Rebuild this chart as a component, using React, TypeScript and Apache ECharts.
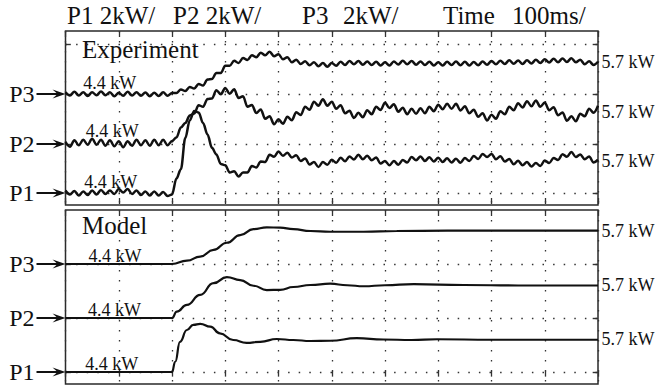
import { useEffect, useRef } from "react";
import * as echarts from "echarts";

// ---------- data (kW) ----------
const SAMPLE_MS = 25 / 3; // sampling step of the measured traces (ms)
const TIME_MAX = 1000;
const TIME_DIV = 100;
const REF_KW = 4.4;
const FINAL_KW = 5.7;
const DIV_KW = 2;

const channels = ["P3", "P2", "P1"];

const expP3 = [
  4.47, 4.34, 4.49, 4.34, 4.47, 4.32, 4.47, 4.35, 4.5, 4.35,
  4.47, 4.31, 4.45, 4.33, 4.49, 4.34, 4.47, 4.33, 4.46, 4.31,
  4.45, 4.32, 4.47, 4.33, 4.44, 4.44, 4.58, 4.52, 4.68, 4.62,
  4.8, 4.74, 4.98, 5.0, 5.24, 5.24, 5.53, 5.53, 5.73, 5.64,
  5.84, 5.76, 5.95, 5.87, 6.05, 5.95, 6.09, 5.91, 5.99, 5.79,
  5.87, 5.67, 5.77, 5.6, 5.71, 5.55, 5.67, 5.51, 5.64, 5.49,
  5.64, 5.53, 5.69, 5.56, 5.72, 5.59, 5.72, 5.57, 5.7, 5.56,
  5.69, 5.54, 5.67, 5.54, 5.7, 5.58, 5.73, 5.59, 5.72, 5.57,
  5.7, 5.56, 5.69, 5.54, 5.67, 5.54, 5.69, 5.56, 5.7, 5.55,
  5.69, 5.54, 5.68, 5.55, 5.7, 5.57, 5.72, 5.59, 5.73, 5.6,
  5.75, 5.61, 5.74, 5.6, 5.75, 5.62, 5.77, 5.64, 5.79, 5.66,
  5.81, 5.67, 5.82, 5.68, 5.83, 5.67, 5.77, 5.59, 5.71, 5.56,
  5.69,
];

const expP2 = [
  4.49, 4.29, 4.55, 4.35, 4.57, 4.37, 4.61, 4.37, 4.57, 4.33,
  4.55, 4.31, 4.51, 4.27, 4.51, 4.33, 4.57, 4.35, 4.55, 4.33,
  4.57, 4.35, 4.57, 4.35, 4.52, 4.66, 5.06, 5.24, 5.54, 5.62,
  5.95, 5.89, 6.2, 6.22, 6.55, 6.39, 6.64, 6.41, 6.59, 6.24,
  6.31, 5.89, 5.96, 5.64, 5.78, 5.41, 5.51, 5.19, 5.39, 5.21,
  5.49, 5.35, 5.67, 5.56, 5.89, 5.77, 6.09, 5.93, 6.19, 5.93,
  6.09, 5.81, 5.95, 5.63, 5.73, 5.44, 5.65, 5.47, 5.75, 5.59,
  5.89, 5.76, 6.05, 5.84, 5.99, 5.69, 5.85, 5.59, 5.81, 5.61,
  5.83, 5.63, 5.89, 5.71, 5.97, 5.79, 6.01, 5.81, 6.01, 5.74,
  5.91, 5.63, 5.77, 5.49, 5.63, 5.34, 5.57, 5.41, 5.71, 5.59,
  5.89, 5.75, 6.03, 5.86, 6.11, 5.91, 6.14, 5.89, 6.06, 5.75,
  5.87, 5.55, 5.66, 5.33, 5.51, 5.31, 5.61, 5.51, 5.81, 5.65,
  5.93,
];

const expP1 = [
  4.5, 4.34, 4.48, 4.3, 4.46, 4.32, 4.5, 4.34, 4.52, 4.36,
  4.5, 4.36, 4.56, 4.42, 4.56, 4.36, 4.5, 4.32, 4.46, 4.3,
  4.46, 4.3, 4.44, 4.28, 4.34, 4.98, 5.35, 6.6, 7.3, 7.68,
  7.62, 7.2, 6.74, 6.21, 5.94, 5.56, 5.51, 5.22, 5.27, 5.06,
  5.22, 5.22, 5.48, 5.42, 5.66, 5.64, 5.93, 5.85, 6.06, 5.89,
  6.01, 5.82, 5.91, 5.68, 5.78, 5.54, 5.64, 5.44, 5.64, 5.53,
  5.73, 5.61, 5.81, 5.67, 5.86, 5.74, 5.93, 5.75, 5.89, 5.71,
  5.82, 5.58, 5.68, 5.51, 5.68, 5.53, 5.72, 5.62, 5.84, 5.71,
  5.86, 5.68, 5.83, 5.66, 5.81, 5.64, 5.79, 5.62, 5.77, 5.61,
  5.8, 5.68, 5.88, 5.76, 5.96, 5.84, 5.96, 5.75, 5.87, 5.66,
  5.76, 5.55, 5.69, 5.51, 5.64, 5.46, 5.6, 5.48, 5.7, 5.6,
  5.8, 5.72, 5.95, 5.85, 6.04, 5.84, 5.94, 5.75, 5.86, 5.62,
  5.73,
];

const modelP3T = [0, 200, 228, 253, 278, 303, 328, 353, 378, 403, 428, 460, 497, 560, 622, 717, 850, 1000];
const modelP3 = [4.4, 4.4, 4.53, 4.69, 4.95, 5.23, 5.53, 5.76, 5.83, 5.82, 5.76, 5.69, 5.66, 5.66, 5.69, 5.7, 5.7, 5.7];

const modelP2T = [0, 200, 209, 228, 253, 278, 303, 328, 353, 378, 403, 428, 460, 497, 529, 560, 600, 654, 748, 850, 1000];
const modelP2 = [4.4, 4.4, 4.65, 4.91, 5.3, 5.76, 6.0, 5.88, 5.66, 5.49, 5.5, 5.61, 5.69, 5.74, 5.68, 5.64, 5.68, 5.72, 5.69, 5.67, 5.67];

const modelP1T = [0, 200, 206, 215, 228, 240, 253, 272, 290, 315, 340, 366, 397, 428, 460, 497, 547, 597, 650, 698, 800, 1000];
const modelP1 = [4.4, 4.4, 4.8, 5.58, 6.04, 6.24, 6.28, 6.17, 5.91, 5.65, 5.54, 5.58, 5.69, 5.65, 5.61, 5.62, 5.72, 5.67, 5.65, 5.68, 5.66, 5.66];

const headerTexts = ["P1 2kW/", "P2 2kW/", "P3", "2kW/", "Time", "100ms/"];
const panelTitles = ["Experiment", "Model"];

// ---------- layout ----------
const FONT = "Liberation Serif";
const INK = "#111";
const GRID_LEFT = 65.5;
const GRID_W = 532.5;
const GRID_H = 174;
const EDGE_TICK_MS = 10;
const panels = [
  { top: 31, pxPerKw: 25, bases: [94, 144, 193], refLabelT: [83, 88, 85], refDist: [1.2, 3.6, 1.8], width: 2.5, smooth: 0.35 },
  { top: 210, pxPerKw: 25.6, bases: [264, 318, 372], refLabelT: [93, 92, 87], refDist: [-1.5, -1.5, -1.8], width: 2.2, smooth: 0.5 },
];
const headerX = [67, 173, 302, 343, 443, 512];
const ARROW = "path://M0,3.5L20,3.5L16,0L29,4.5L16,9L20,5.5L0,5.5Z";

function buildOption() {
  const expData = [expP3, expP2, expP1].map((arr) => arr.map((v, i) => [i * SAMPLE_MS, v]));
  const modelData = [
    modelP3T.map((t, i) => [t, modelP3[i]]),
    modelP2T.map((t, i) => [t, modelP2[i]]),
    modelP1T.map((t, i) => [t, modelP1[i]]),
  ];
  const grids = panels.map((p) => ({
    left: GRID_LEFT,
    top: p.top,
    width: GRID_W,
    height: GRID_H,
    show: true,
    borderColor: "#2a2a2a",
    borderWidth: 1.5,
    backgroundColor: "transparent",
  }));
  const xAxes: any[] = [];
  panels.forEach((_, g) => {
    ["bottom", "top"].forEach((pos, k) => {
      xAxes.push({
        gridIndex: g,
        type: "value",
        position: pos,
        min: 0,
        max: TIME_MAX,
        interval: TIME_DIV,
        axisLine: { show: false },
        axisLabel: { show: false },
        axisTick: { show: true, inside: true, length: 6, lineStyle: { color: "#333", width: 1.3 } },
        splitLine: { show: k === 0, lineStyle: { type: [1.5, 8.5], color: "#333", width: 1.3 } },
      });
    });
  });
  const yAxes: any[] = [];
  const series: any[] = [];
  panels.forEach((p, g) => {
    channels.forEach((ch, c) => {
      const max = REF_KW + (p.bases[c] - p.top) / p.pxPerKw;
      const min = max - GRID_H / p.pxPerKw;
      yAxes.push({ gridIndex: g, type: "value", min, max, show: false });
      const rows = [REF_KW];
      if (g === 0 && c === 0) rows.push(REF_KW + DIV_KW);
      const solid = { type: "solid", width: 1.4, color: "#333" };
      const gridLines: any[] = [];
      rows.forEach((r) => {
        gridLines.push({ yAxis: r });
        gridLines.push([{ coord: [0, r], lineStyle: solid }, { coord: [EDGE_TICK_MS, r] }]);
        gridLines.push([{ coord: [TIME_MAX - EDGE_TICK_MS, r], lineStyle: solid }, { coord: [TIME_MAX, r] }]);
      });
      const lbl = { fontFamily: FONT, color: INK, fontSize: 18 };
      series.push({
        type: "line",
        name: (g === 0 ? "Experiment " : "Model ") + ch,
        xAxisIndex: g * 2,
        yAxisIndex: yAxes.length - 1,
        data: g === 0 ? expData[c] : modelData[c],
        symbol: "none",
        showSymbol: false,
        smooth: p.smooth,
        smoothMonotone: "x",
        clip: false,
        lineStyle: { color: INK, width: p.width },
        z: 3,
        markLine: {
          silent: true,
          symbol: ["none", "none"],
          label: { show: false },
          lineStyle: { type: [1.5, 9.1], color: "#333", width: 1.3 },
          data: gridLines,
          z: 1,
        },
        markPoint: {
          silent: true,
          data: [
            {
              coord: [p.refLabelT[c], REF_KW],
              symbol: "circle",
              symbolSize: 1,
              itemStyle: { color: "rgba(0,0,0,0)" },
              label: { show: true, position: "top", distance: p.refDist[c], formatter: `${REF_KW} kW`, ...lbl },
            },
            {
              coord: [TIME_MAX, FINAL_KW],
              symbol: "circle",
              symbolSize: 1,
              itemStyle: { color: "rgba(0,0,0,0)" },
              label: { show: true, position: "right", distance: 3, formatter: `${FINAL_KW} kW`, ...lbl },
            },
            {
              coord: [0, REF_KW],
              symbol: ARROW,
              symbolSize: [29, 9],
              symbolOffset: [-14.5, 0],
              itemStyle: { color: INK },
              label: { show: true, position: "left", distance: 2, formatter: ch, ...lbl, fontSize: 24 },
            },
          ],
        },
      });
    });
  });
  const textStyle = (text: string, x: number, y: number) => ({
    type: "text",
    x,
    y,
    silent: true,
    style: {
      text,
      fill: INK,
      font: `25px ${FONT}`,
      textAlign: "left",
      textVerticalAlign: "middle",
      align: "left",
      verticalAlign: "middle",
    },
  });
  const graphic = [
    ...headerTexts.map((t, i) => textStyle(t, headerX[i], 15.5)),
    textStyle(panelTitles[0], 82, 49),
    textStyle(panelTitles[1], 82, 225),
  ];
  return {
    animation: false,
    backgroundColor: "#fff",
    textStyle: { fontFamily: FONT },
    grid: grids,
    xAxis: xAxes,
    yAxis: yAxes,
    series,
    graphic,
  };
}

export default function App() {
  const ref = useRef<HTMLDivElement>(null);
  useEffect(() => {
    if (!ref.current) return;
    const chart = echarts.init(ref.current, undefined, { renderer: "svg" });
    chart.setOption(buildOption() as any);
    return () => chart.dispose();
  }, []);
  return (
    <div
      ref={ref}
      style={{ position: "absolute", left: 0, top: 0, width: 661, height: 390, background: "#fff" }}
    />
  );
}
